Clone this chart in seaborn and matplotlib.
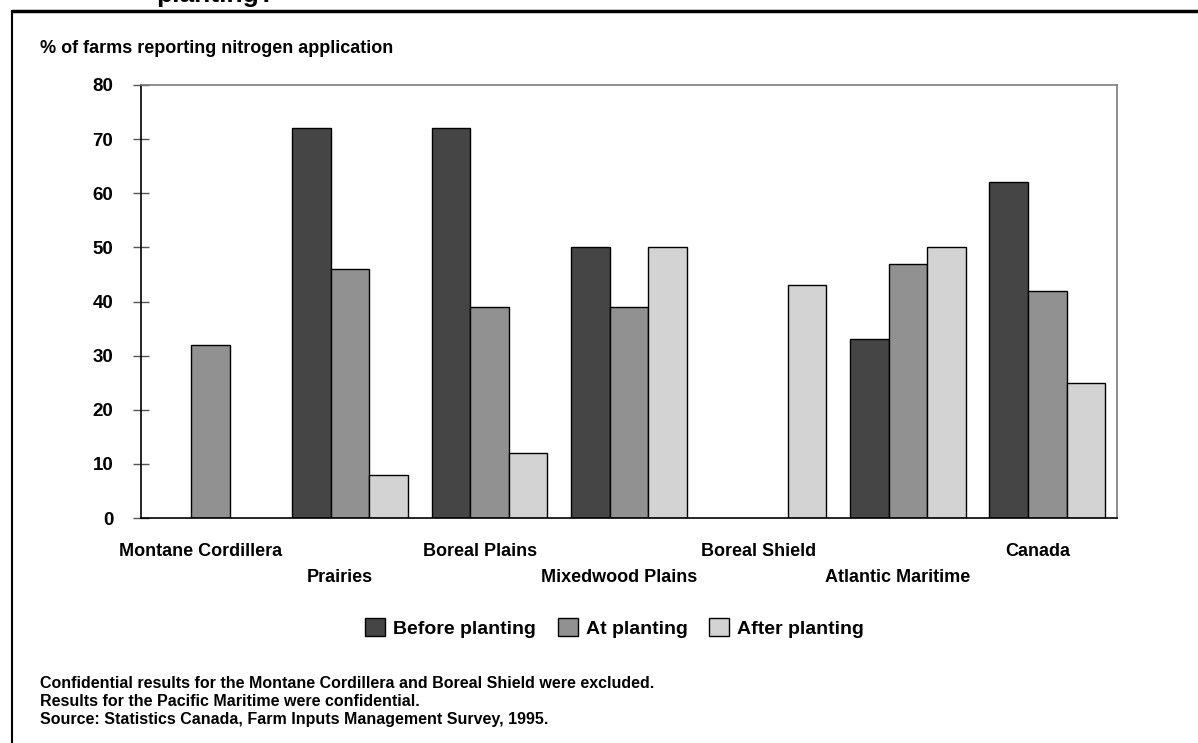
import numpy as np
import pandas as pd
import matplotlib
matplotlib.use('Agg')
import matplotlib.pyplot as plt
import matplotlib.transforms as mtransforms
from matplotlib.patches import Patch
from matplotlib.lines import Line2D
import seaborn as sns

# ── datos ────────────────────────────────────────────────────────────────────
regiones = ['Montane Cordillera', 'Prairies', 'Boreal Plains', 'Mixedwood Plains',
            'Boreal Shield', 'Atlantic Maritime', 'Canada']
series = ['Before planting', 'At planting', 'After planting']
antes = [np.nan, 72, 72, 50, np.nan, 33, 62]
durante = [32, 46, 39, 39, np.nan, 47, 42]
despues = [np.nan, 8, 12, 50, 43, 50, 25]
y_ticks = [0, 10, 20, 30, 40, 50, 60, 70, 80]
colores = ['#454545', '#919191', '#d3d3d3']

notas = ['Confidential results for the Montane Cordillera and Boreal Shield were excluded.',
         'Results for the Pacific Maritime were confidential.',
         'Source: Statistics Canada, Farm Inputs Management Survey, 1995.']

df = pd.DataFrame({
    'region': regiones * 3,
    'serie': [s for s in series for _ in regiones],
    'valor': antes + durante + despues,
})

sns.set_theme(style='white')
plt.rcParams['font.family'] = ['Liberation Sans', 'DejaVu Sans']
plt.rcParams['font.weight'] = 'bold'
plt.rcParams['text.color'] = 'black'
plt.rcParams['xtick.labelcolor'] = 'black'
plt.rcParams['ytick.labelcolor'] = 'black'

fig = plt.figure(figsize=(11.98, 7.43), dpi=100)
ax = fig.add_axes([0.1177, 0.3028, 0.8147, 0.5828])

sns.barplot(data=df, x='region', y='valor', hue='serie', order=regiones,
            hue_order=series, palette=colores, width=0.83, errorbar=None,
            edgecolor='black', linewidth=1, saturation=1, ax=ax, legend=False)

ax.set_ylim(0, 80)
ax.set_xlim(-0.5, len(regiones) - 0.5)
ax.set_yticks(y_ticks)
ax.set_yticklabels([str(v) for v in y_ticks], fontsize=13.5, fontweight='bold')
ax.set_xlabel('')
ax.set_ylabel('')

for lado in ['left', 'bottom']:
    ax.spines[lado].set_color('black')
    ax.spines[lado].set_linewidth(1.2)
for lado in ['top', 'right']:
    ax.spines[lado].set_color('#7a7a7a')
    ax.spines[lado].set_linewidth(1.2)

ax.tick_params(axis='y', direction='inout', length=12, width=1, color='#555555',
               left=True, pad=14, labelcolor='black')
ax.tick_params(axis='x', length=0, labelsize=13, labelcolor='black')

# etiquetas del eje x escalonadas
for i, tick in enumerate(ax.xaxis.get_major_ticks()):
    tick.set_pad(18 if i % 2 == 0 else 37)
desplaz = mtransforms.ScaledTranslation(-0.10, 0, fig.dpi_scale_trans)
for lab in ax.get_xticklabels():
    lab.set_fontweight('bold')
    lab.set_transform(lab.get_transform() + desplaz)

# título cortado arriba
fig.text(0.130, 0.997, 'planting?', fontsize=19, fontweight='bold', ha='left', va='baseline')

fig.text(0.0334, 0.935, '% of farms reporting nitrogen application',
         fontsize=13, fontweight='bold', ha='left', va='center')

# leyenda
manijas = [Patch(facecolor=c, edgecolor='black', linewidth=1) for c in colores]
fig.legend(manijas, series, loc='center', bbox_to_anchor=(0.513, 0.1548), ncol=3,
           frameon=False, handlelength=1.05, handleheight=1.05, handletextpad=0.4,
           columnspacing=1.1, prop={'size': 14, 'weight': 'bold'})

for texto, y in zip(notas, [0.0807, 0.0565, 0.0323]):
    fig.text(0.0334, y, texto, fontsize=11.5, fontweight='bold', ha='left', va='center')

# marco de la figura
fig.add_artist(Line2D([0.0100, 1.0], [0.9852, 0.9852], color='black', linewidth=2.5,
                      transform=fig.transFigure))
fig.add_artist(Line2D([0.0100, 0.0100], [0.0, 0.9852], color='black', linewidth=1.5,
                      transform=fig.transFigure))

plt.savefig('out.png', dpi=100)
plt.close()
